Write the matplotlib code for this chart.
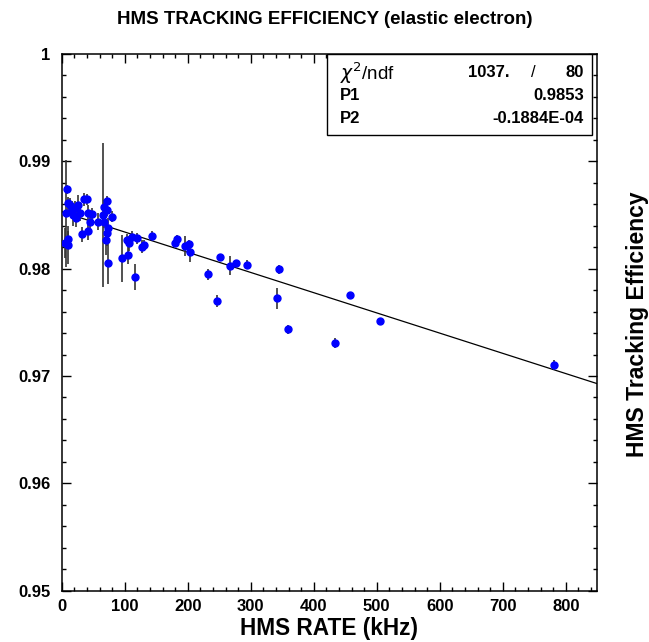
import numpy as np
import matplotlib
matplotlib.use("Agg")
import matplotlib.pyplot as plt
from matplotlib.ticker import MultipleLocator, FuncFormatter
from matplotlib.patches import Rectangle

plt.rcParams['font.family'] = ['Liberation Sans', 'DejaVu Sans']

# HMS rate (kHz), tracking efficiency, error
rate = [7.9, 9.5, 13.0, 6.8, 15.7, 21.1, 18.4, 26.3, 29.0, 22.2,
        35.9, 39.7, 42.2, 47.6, 44.9, 42.2, 31.7, 58.1, 9.5, 5.2,
        10.5, 71.5, 67.6, 66.0, 71.5, 80.4, 73.0, 71.5, 69.9, 74.0,
        67.6, 95.2, 103.2, 106.8, 105.7, 111.1, 116.4, 119.0, 127.9, 131.1,
        143.8, 182.5, 179.4, 195.2, 201.6, 203.7, 250.8, 232.2, 246.5, 266.7,
        276.7, 294.6, 344.4, 341.7, 359.7, 457.1, 505.7, 434.0, 781.0]
eff = [0.98740, 0.98609, 0.98594, 0.98516, 0.98547, 0.98563, 0.98500, 0.98594, 0.98522, 0.98469,
       0.98645, 0.98645, 0.98516, 0.98509, 0.98437, 0.98351, 0.98320, 0.98437, 0.98274, 0.98236,
       0.98220, 0.98631, 0.98577, 0.98500, 0.98547, 0.98485, 0.98375, 0.98334, 0.98267, 0.98050,
       0.98437, 0.98097, 0.98267, 0.98236, 0.98128, 0.98298, 0.97925, 0.98283, 0.98205, 0.98221,
       0.98307, 0.98277, 0.98239, 0.98211, 0.98230, 0.98158, 0.98106, 0.97948, 0.97699, 0.98028,
       0.98050, 0.98037, 0.97994, 0.97724, 0.97435, 0.97758, 0.97515, 0.97308, 0.97103]
err = [0.0004, 0.0006, 0.0006, 0.0050, 0.0008, 0.0007, 0.0010, 0.0009, 0.0008, 0.0008,
       0.0006, 0.0005, 0.0008, 0.0006, 0.0006, 0.0008, 0.0007, 0.0008, 0.0008, 0.0014,
       0.0018, 0.0005, 0.0006, 0.0067, 0.0006, 0.0005, 0.0010, 0.0012, 0.0014, 0.0019,
       0.0006, 0.0022, 0.0006, 0.0007, 0.0008, 0.0005, 0.0012, 0.0005, 0.0006, 0.0005,
       0.0004, 0.0004, 0.0004, 0.0009, 0.0004, 0.0010, 0.0003, 0.0005, 0.0006, 0.0009,
       0.0003, 0.0004, 0.0004, 0.0010, 0.0004, 0.0002, 0.0003, 0.0005, 0.0005]

# linear fit parameters
p1 = 0.9853
p2 = -0.1884e-4
chi2 = "1037."
ndf = "80"

fig = plt.figure(figsize=(6.49, 6.42), dpi=100)
ax = fig.add_axes([0.0951, 0.0799, 0.8252, 0.8360])

ax.errorbar(rate, eff, yerr=err, fmt='o', color='#0000ff', markersize=5,
            ecolor='0.2', elinewidth=1.2, capsize=0, zorder=3)
xfit = np.array([0, 850])
ax.plot(xfit, p1 + p2 * xfit, color='black', lw=0.9, zorder=2)

ax.set_xlim(0, 850)
ax.set_ylim(0.95, 1.0)
ax.xaxis.set_major_locator(MultipleLocator(100))
ax.xaxis.set_minor_locator(MultipleLocator(20))
ax.yaxis.set_major_locator(MultipleLocator(0.01))
ax.yaxis.set_minor_locator(MultipleLocator(0.002))
ax.yaxis.set_major_formatter(FuncFormatter(lambda v, p: '%g' % round(v, 4)))
ax.tick_params(which='both', direction='in', top=True, right=True, width=1.0)
ax.tick_params(which='major', length=6.2, labelsize=12)
ax.tick_params(which='minor', length=3.2)
ax.tick_params(axis='y', which='major', pad=8)
ax.tick_params(axis='x', which='major', pad=6)
for lab in ax.get_xticklabels() + ax.get_yticklabels():
    lab.set_fontweight('bold')
for s in ax.spines.values():
    s.set_linewidth(1.1)

ax.set_xlabel('HMS RATE (kHz)', fontsize=16.3, fontweight='bold', labelpad=2)

fig.text(0.501, 0.969, 'HMS TRACKING EFFICIENCY (elastic electron)',
         ha='center', va='center', fontsize=13.5, fontweight='bold')
fig.text(0.982, 0.495, 'HMS Tracking Efficiency', rotation=90,
         ha='center', va='center', fontsize=16.5, fontweight='bold')

# stats box
ax.add_patch(Rectangle((0.495, 0.849), 0.4948, 0.151, transform=ax.transAxes,
                       facecolor='white', edgecolor='black', lw=1.0, zorder=2.2))
rows = [0.965, 0.9235, 0.8806]
ax.text(0.5196, rows[0], r'$\chi^2$/ndf', transform=ax.transAxes, fontsize=13.5,
        ha='left', va='center', zorder=2.3)
ax.text(0.837, rows[0], chi2, transform=ax.transAxes, fontsize=12, fontweight='bold',
        ha='right', va='center', zorder=2.3)
ax.text(0.88, rows[0], '/', transform=ax.transAxes, fontsize=12,
        ha='center', va='center', zorder=2.3)
ax.text(0.9752, rows[0], ndf, transform=ax.transAxes, fontsize=12, fontweight='bold',
        ha='right', va='center', zorder=2.3)
ax.text(0.5196, rows[1], 'P1', transform=ax.transAxes, fontsize=12, fontweight='bold',
        ha='left', va='center', zorder=2.3)
ax.text(0.9752, rows[1], '%.4f' % p1, transform=ax.transAxes, fontsize=12, fontweight='bold',
        ha='right', va='center', zorder=2.3)
ax.text(0.5196, rows[2], 'P2', transform=ax.transAxes, fontsize=12, fontweight='bold',
        ha='left', va='center', zorder=2.3)
ax.text(0.9752, rows[2], '-0.1884E-04', transform=ax.transAxes, fontsize=12, fontweight='bold',
        ha='right', va='center', zorder=2.3)

fig.savefig('out.png', dpi=100)
